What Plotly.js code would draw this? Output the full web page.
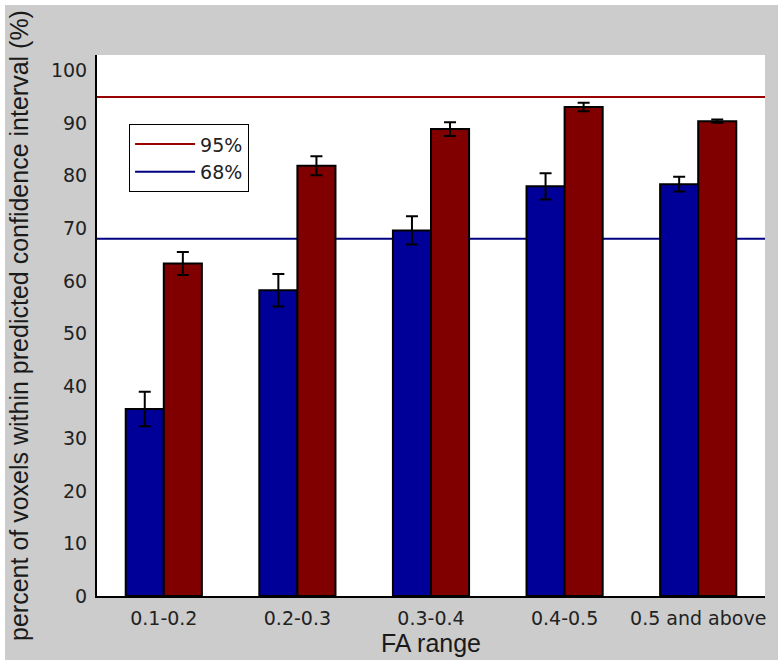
<!DOCTYPE html>
<html>
<head>
<meta charset="utf-8">
<script src="https://cdn.plot.ly/plotly-3.0.1.min.js"></script>
<style>
html,body{margin:0;padding:0;background:#ffffff;}
#chart{position:absolute;left:5px;top:5px;width:773px;height:655px;}
</style>
</head>
<body>
<div id="chart"></div>
<script>
// Data
const categories = ["0.1-0.2", "0.2-0.3", "0.3-0.4", "0.4-0.5", "0.5 and above"];
const catIndex = [0, 1, 2, 3, 4];
const pct68 = [35.6, 58.2, 69.6, 78.0, 78.4];
const err68 = [3.3, 3.1, 2.7, 2.5, 1.4];
const pct95 = [63.3, 81.9, 88.9, 93.1, 90.4];
const err95 = [2.2, 1.8, 1.3, 0.8, 0.3];
const refNames = ["95%", "68%"];
const refLevels = [95, 68];
const xSpan = [-0.5, 4.5];

const blue = "#000099";
const red = "#800000";
const lineColors = ["#990000", "#000080"];

const traces = [
  {
    type: "bar", x: catIndex, y: pct68, name: "68% bars", showlegend: false,
    marker: {color: blue, line: {color: "#000000", width: 2}},
    error_y: {type: "data", array: err68, visible: true, color: "#000000", thickness: 2, width: 6},
    hoverinfo: "skip"
  },
  {
    type: "bar", x: catIndex, y: pct95, name: "95% bars", showlegend: false,
    marker: {color: red, line: {color: "#000000", width: 2}},
    error_y: {type: "data", array: err95, visible: true, color: "#000000", thickness: 2, width: 6},
    hoverinfo: "skip"
  }
];

const shapes = refLevels.map((v, i) => ({
  type: "line", xref: "x", yref: "y",
  x0: xSpan[0], x1: xSpan[1], y0: v, y1: v,
  line: {color: lineColors[i], width: 2},
  layer: "below",
  showlegend: true,
  name: refNames[i]
}));

const tickFont = {family: "DejaVu Sans", size: 19, color: "#222222"};

const layout = {
  width: 773, height: 655,
  paper_bgcolor: "#cccccc",
  plot_bgcolor: "#ffffff",
  margin: {l: 92, r: 13, t: 50, b: 64},
  barmode: "group",
  bargap: 0.43,
  bargroupgap: 0,
  showlegend: true,
  legend: {
    x: 0.048, y: 0.872, xanchor: "left", yanchor: "top",
    bgcolor: "#ffffff", bordercolor: "#000000", borderwidth: 1,
    font: {family: "DejaVu Sans", size: 19, color: "#222222"},
    itemwidth: 60
  },
  xaxis: {
    type: "linear",
    range: xSpan,
    tickvals: catIndex,
    ticktext: categories,
    ticks: "",
    showgrid: false, zeroline: false,
    showline: true, linecolor: "#000000", linewidth: 2,
    tickfont: tickFont,
    ticklabelstandoff: 4,
    title: {text: "FA range", font: {family: "Liberation Sans", size: 25, color: "#1a1a1a"}, standoff: 7}
  },
  yaxis: {
    range: [0, 103],
    dtick: 10,
    tick0: 0,
    ticks: "",
    showgrid: false, zeroline: false,
    showline: true, linecolor: "#000000", linewidth: 2,
    tickfont: tickFont,
    ticklabelstandoff: 4,
    title: {text: "percent of voxels within predicted confidence interval (%)", font: {family: "Liberation Sans", size: 25, color: "#1a1a1a"}, standoff: 17}
  },
  shapes: shapes
};

Plotly.newPlot("chart", traces, layout, {displayModeBar: false, staticPlot: true});
</script>
</body>
</html>
